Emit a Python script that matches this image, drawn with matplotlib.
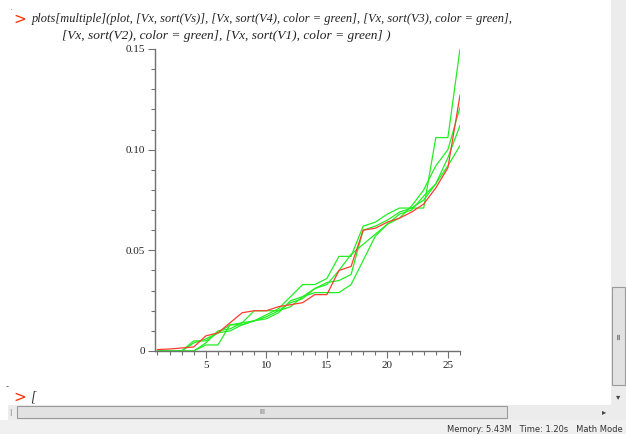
import matplotlib
matplotlib.use('Agg')
import matplotlib.pyplot as plt
from matplotlib.patches import Rectangle
from matplotlib.ticker import MultipleLocator

# data
Vx = list(range(1, 27))
Vs = [0.0007, 0.001, 0.0015, 0.002, 0.0075, 0.009, 0.014, 0.019, 0.020, 0.020,
      0.022, 0.023, 0.024, 0.028, 0.028, 0.040, 0.042, 0.060, 0.061, 0.064,
      0.066, 0.069, 0.073, 0.081, 0.091, 0.127]
V4 = [0, 0, 0, 0.005, 0.005, 0.009, 0.013, 0.013, 0.015, 0.018,
      0.021, 0.027, 0.033, 0.033, 0.036, 0.047, 0.047, 0.062, 0.064, 0.068,
      0.071, 0.071, 0.071, 0.106, 0.106, 0.150]
V3 = [0, 0, 0, 0, 0.003, 0.003, 0.013, 0.014, 0.015, 0.016,
      0.019, 0.025, 0.027, 0.029, 0.029, 0.029, 0.033, 0.045, 0.057, 0.063,
      0.066, 0.072, 0.080, 0.092, 0.100, 0.121]
V2 = [0, 0, 0, 0.004, 0.006, 0.009, 0.010, 0.013, 0.015, 0.017,
      0.020, 0.022, 0.027, 0.031, 0.034, 0.035, 0.038, 0.060, 0.062, 0.065,
      0.069, 0.071, 0.075, 0.083, 0.096, 0.112]
V1 = [0, 0, 0, 0, 0.004, 0.010, 0.011, 0.014, 0.020, 0.020,
      0.020, 0.024, 0.026, 0.031, 0.033, 0.040, 0.048, 0.053, 0.058, 0.063,
      0.068, 0.070, 0.077, 0.083, 0.092, 0.102]
yticks = [0, 0.05, 0.10, 0.15]
ylabels = ['0', '0.05', '0.10', '0.15']
xticks = [5, 10, 15, 20, 25]

W, H = 626, 434
fig = plt.figure(figsize=(W / 100, H / 100), dpi=100)
fig.patch.set_facecolor('white')

def box(x, y, w, h, **kw):
    # pixel coords, origin top-left
    fig.patches.append(Rectangle((x / W, 1 - (y + h) / H), w / W, h / H,
                                 transform=fig.transFigure, **kw))

serif = 'Liberation Serif'

# command line
fig.text(9 / W, 1 - 8 / H, '.', fontsize=6, color='#555555', va='center')
fig.text(13 / W, 1 - 19 / H, '>', fontsize=11, color='#ff3000', va='center',
         family='DejaVu Sans')
fig.text(32 / W, 1 - 19 / H,
         'plots[multiple](plot, [Vx, sort(Vs)], [Vx, sort(V4), color = green], '
         '[Vx, sort(V3), color = green],',
         fontsize=8.9, style='italic', family=serif, va='center', color='#222222')
fig.text(62 / W, 1 - 36 / H,
         '[Vx, sort(V2), color = green], [Vx, sort(V1), color = green] )',
         fontsize=9.6, style='italic', family=serif, va='center', color='#222222')

# plot
ax = fig.add_axes([155 / W, 1 - 351 / H, (460 - 155) / W, (351 - 49) / H])
ax.plot(Vx, Vs, color='#ff3b30', lw=0.9, zorder=3)
for v in (V4, V3, V2, V1):
    ax.plot(Vx, v, color='#22ee22', lw=0.9, zorder=2)
ax.set_xlim(0.8, 26.0)
ax.set_ylim(0, 0.15)
for s in ('top', 'right'):
    ax.spines[s].set_visible(False)
for s in ('left', 'bottom'):
    ax.spines[s].set_color('#707070')
    ax.spines[s].set_linewidth(1.0)
ax.set_xticks(xticks)
ax.set_yticks(yticks)
ax.set_yticklabels(ylabels)
ax.xaxis.set_minor_locator(MultipleLocator(1))
ax.yaxis.set_minor_locator(MultipleLocator(0.01))
ax.tick_params(which='major', length=5, width=0.8, color='#707070', labelsize=8, pad=2)
ax.tick_params(which='minor', length=3, width=0.8, color='#707070')
for lab in ax.get_xticklabels() + ax.get_yticklabels():
    lab.set_family(serif)
    lab.set_color('#222222')
ax.patch.set_alpha(0)

# bottom prompt
fig.text(6 / W, 1 - 387 / H, '-', fontsize=6, color='#444444', va='center')
fig.text(13 / W, 1 - 397 / H, '>', fontsize=11, color='#ff3000', va='center',
         family='DejaVu Sans')
fig.text(30 / W, 1 - 397 / H, '[', fontsize=10, style='italic', family=serif,
         va='center', color='#333333')

# vertical scrollbar
box(611, 0, 15, 420, facecolor='#ececec', edgecolor='none')
box(612, 287, 13, 98, facecolor='#e2e2e2', edgecolor='#9a9a9a', lw=0.8)
fig.text(618.5 / W, 1 - 336 / H, '≡', fontsize=6, color='#666666', ha='center',
         va='center', rotation=90)
fig.text(618.5 / W, 1 - 397 / H, '▾', fontsize=6, color='#444444', ha='center', va='center')

# horizontal scrollbar
box(8, 405, 603, 15, facecolor='#ececec', edgecolor='none')
box(17, 406, 490, 12, facecolor='#e2e2e2', edgecolor='#9a9a9a', lw=0.8)
fig.text(262 / W, 1 - 412 / H, 'III', fontsize=5, color='#666666', ha='center', va='center')
fig.text(604 / W, 1 - 412 / H, '▸', fontsize=6, color='#444444', ha='center', va='center')
fig.text(10 / W, 1 - 412 / H, '|', fontsize=5, color='#777777', ha='center', va='center')

# status bar
box(0, 420, 626, 14, facecolor='#f0f0f0', edgecolor='none')
fig.text(623 / W, 1 - 429 / H, 'Memory: 5.43M   Time: 1.20s   Math Mode',
         fontsize=6, color='#333333', ha='right', va='center', family='DejaVu Sans')

fig.savefig('out.png', dpi=100, facecolor='white')
